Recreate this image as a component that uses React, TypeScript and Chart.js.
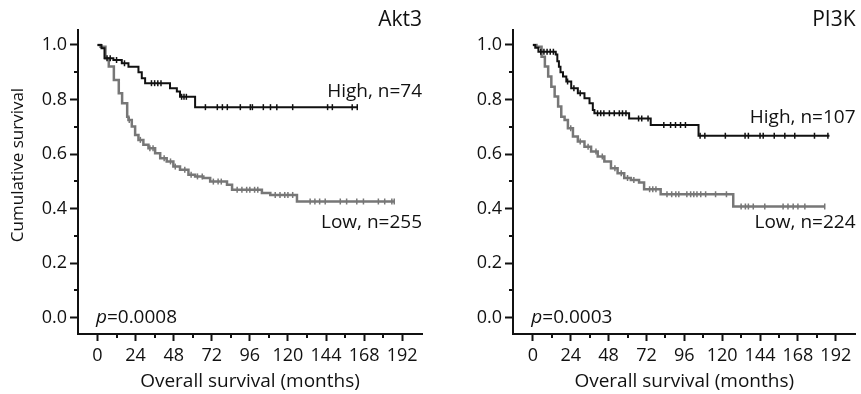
import React, { useEffect, useRef } from 'react';
import { Chart, registerables } from 'chart.js';

Chart.register(...registerables);

// ---------- data ----------
const xMinorTicks = [12, 36, 60, 84, 108, 132, 156, 180];
const yMinorTicks = [0.1, 0.3, 0.5, 0.7, 0.9];

const panelTitles = ['Akt3', 'PI3K'];
const highLabels = ['High, n=74', 'High, n=107'];
const lowLabels = ['Low, n=255', 'Low, n=224'];
const pValueTexts = ['=0.0008', '=0.0003'];

const akt3HighTime = [0, 2.5, 4.4, 10, 15.3, 19.5, 25.8, 27.9, 30, 45.7, 50, 52, 61.5, 164];
const akt3HighSurv = [1, 0.988, 0.951, 0.945, 0.933, 0.92, 0.9, 0.878, 0.86, 0.841, 0.829, 0.81, 0.772, 0.772];
const akt3HighCensor = [6, 8, 12, 17, 34, 36, 38, 40, 53, 54.5, 56, 68, 75.5, 78.7, 81.8, 90, 96.3, 97.6, 104.5, 109, 113, 123, 145, 148, 160.5, 163.7];

const akt3LowTime = [0, 1.9, 5, 7.1, 10.3, 13.4, 15.5, 18.7, 19.5, 21.6, 23.7, 25.8, 28.9, 32.1, 36.3, 39.5, 43.6, 47.8, 52, 57.3, 61.5, 66.7, 71, 81.6, 84.8, 103.6, 108.9, 125.7, 187];
const akt3LowSurv = [1, 0.994, 0.951, 0.921, 0.872, 0.823, 0.786, 0.737, 0.725, 0.701, 0.67, 0.652, 0.634, 0.621, 0.603, 0.585, 0.573, 0.554, 0.542, 0.524, 0.518, 0.512, 0.499, 0.487, 0.469, 0.457, 0.45, 0.426, 0.426];
const akt3LowCensor = [20, 27, 33, 35, 42, 46, 49, 55, 59, 63, 66, 73, 76, 78, 88, 91, 94, 96, 99, 101, 112, 115, 118, 120, 123, 134, 137, 140, 143.5, 153, 157, 163.4, 167.6, 177, 181, 185.5, 187];

const pi3kHighTime = [0, 1.5, 3.5, 14.5, 15.5, 16.5, 17.5, 19.1, 21.2, 24.3, 28.5, 32.7, 35.9, 38, 39, 61, 74.7, 105, 188];
const pi3kHighSurv = [1, 0.99, 0.975, 0.965, 0.94, 0.92, 0.9, 0.884, 0.866, 0.841, 0.823, 0.805, 0.786, 0.762, 0.75, 0.73, 0.707, 0.667, 0.667];
const pi3kHighCensor = [5, 7, 9, 11, 13, 22, 26, 30, 41, 43, 45, 48.5, 51.6, 54.8, 56.8, 59, 67, 69, 73, 83, 87.3, 90.4, 93.6, 96.7, 106, 109, 122, 134.5, 136.6, 144, 146, 153, 159.7, 166, 178.5, 187];

const pi3kLowTime = [0, 2.3, 5.5, 7.6, 9.7, 11.7, 13.8, 16, 18, 20.1, 22.2, 25.4, 28.5, 32.7, 36.9, 41.1, 45.3, 49.5, 53.7, 57.9, 62.1, 67.3, 70.5, 81, 127, 185];
const pi3kLowSurv = [1, 0.994, 0.957, 0.921, 0.884, 0.847, 0.811, 0.774, 0.737, 0.725, 0.695, 0.664, 0.646, 0.627, 0.609, 0.591, 0.573, 0.548, 0.53, 0.512, 0.505, 0.496, 0.471, 0.453, 0.408, 0.408];
const pi3kLowCensor = [24, 30, 35, 40, 44, 52, 56, 60, 64, 74, 76, 78, 85, 88, 90.6, 92.5, 97.6, 100, 102, 104, 106.4, 109.5, 115.8, 122.7, 132, 134.7, 136.6, 139.7, 147, 158.6, 161.7, 165, 168, 172.4, 185];

// ---------- helpers ----------
const INK = '#111111';
const GRAY = '#777777';
const FONT = "'Open Sans', 'DejaVu Sans', sans-serif";

function toPoints(t: number[], s: number[]) {
  return t.map((v, i) => ({ x: v, y: s[i] }));
}
function survAt(t: number[], s: number[], time: number) {
  let val = s[0];
  for (let i = 0; i < t.length; i++) if (t[i] <= time) val = s[i];
  return val;
}
function censorPoints(t: number[], s: number[], c: number[]) {
  return c.map((v) => ({ x: v, y: survAt(t, s, v) }));
}

type PanelDef = {
  idx: number;
  left: number;
  width: number;
  yAxisWidth: number;
  padRight: number;
  xMin: number;
  highT: number[];
  highS: number[];
  highC: number[];
  lowT: number[];
  lowS: number[];
  lowC: number[];
  highLabelY: number;
  lowLabelY: number;
  showYTitle: boolean;
};

function Panel(props: PanelDef) {
  const ref = useRef<HTMLCanvasElement | null>(null);
  useEffect(() => {
    const canvas = ref.current;
    if (!canvas) return;
    const p = props;
    const annot = {
      id: 'annot',
      afterDraw(chart: any) {
        const { ctx, chartArea } = chart;
        const x = chart.scales.x;
        const y = chart.scales.y;
        ctx.save();
        ctx.strokeStyle = INK;
        ctx.lineWidth = 2;
        for (const v of xMinorTicks) {
          const px = Math.round(x.getPixelForValue(v));
          ctx.beginPath();
          ctx.moveTo(px, chartArea.bottom);
          ctx.lineTo(px, chartArea.bottom + 4);
          ctx.stroke();
        }
        for (const v of yMinorTicks) {
          const py = Math.round(y.getPixelForValue(v));
          ctx.beginPath();
          ctx.moveTo(chartArea.left, py);
          ctx.lineTo(chartArea.left - 4, py);
          ctx.stroke();
        }
        ctx.fillStyle = INK;
        // panel title
        ctx.font = `21px ${FONT}`;
        ctx.textAlign = 'right';
        ctx.textBaseline = 'middle';
        ctx.fillText(panelTitles[p.idx], chartArea.right, 20);
        // group labels
        ctx.font = `19px ${FONT}`;
        ctx.fillText(highLabels[p.idx], chartArea.right, y.getPixelForValue(p.highLabelY));
        ctx.fillText(lowLabels[p.idx], chartArea.right, y.getPixelForValue(p.lowLabelY));
        // p value
        ctx.textAlign = 'left';
        ctx.textBaseline = 'alphabetic';
        const px0 = x.getPixelForValue(-1);
        const base = y.getPixelForValue(0) + 5;
        ctx.font = `italic 19px ${FONT}`;
        ctx.fillText('p', px0, base);
        const w = ctx.measureText('p').width;
        ctx.font = `19px ${FONT}`;
        ctx.fillText(pValueTexts[p.idx], px0 + w, base);
        // y title
        if (p.showYTitle) {
          ctx.save();
          ctx.translate(18, 165);
          ctx.rotate(-Math.PI / 2);
          ctx.textAlign = 'center';
          ctx.textBaseline = 'middle';
          ctx.font = `17px ${FONT}`;
          ctx.fillText('Cumulative survival', 0, 0);
          ctx.restore();
        }
        ctx.restore();
      },
    };

    const chart = new Chart(canvas, {
      type: 'line',
      data: {
        datasets: [
          {
            data: toPoints(p.highT, p.highS),
            borderColor: INK,
            borderWidth: 2,
            stepped: 'before',
            pointRadius: 0,
            fill: false,
          },
          {
            type: 'scatter',
            data: censorPoints(p.highT, p.highS, p.highC),
            pointStyle: 'line',
            rotation: 90,
            radius: 3,
            borderColor: INK,
            borderWidth: 1.5,
            backgroundColor: INK,
          } as any,
          {
            data: toPoints(p.lowT, p.lowS),
            borderColor: GRAY,
            borderWidth: 2.5,
            stepped: 'before',
            pointRadius: 0,
            fill: false,
          },
          {
            type: 'scatter',
            data: censorPoints(p.lowT, p.lowS, p.lowC),
            pointStyle: 'line',
            rotation: 90,
            radius: 3,
            borderColor: GRAY,
            borderWidth: 1.5,
            backgroundColor: GRAY,
          } as any,
        ],
      },
      options: {
        animation: false,
        responsive: false,
        maintainAspectRatio: false,
        events: [],
        plugins: { legend: { display: false }, tooltip: { enabled: false } },
        layout: { padding: { top: 30, right: p.padRight, left: 0, bottom: 0 } },
        scales: {
          x: {
            type: 'linear',
            min: p.xMin,
            max: 204.5,
            afterFit: (s: any) => {
              s.height = 60;
            },
            ticks: {
              stepSize: 24,
              includeBounds: false,
              autoSkip: false,
              maxRotation: 0,
              color: INK,
              padding: 4,
              font: { family: FONT, size: 18 },
            },
            grid: { drawOnChartArea: false, drawTicks: true, tickLength: 7, tickWidth: 2, tickColor: INK },
            border: { display: true, color: INK, width: 2 },
            title: {
              display: true,
              text: 'Overall survival (months)',
              color: INK,
              font: { family: FONT, size: 19 },
              padding: { top: 0, bottom: 1 },
            },
          },
          y: {
            type: 'linear',
            min: -0.06,
            max: 1.055,
            afterFit: (s: any) => {
              s.width = p.yAxisWidth;
            },
            ticks: {
              stepSize: 0.2,
              includeBounds: false,
              color: INK,
              padding: 3,
              font: { family: FONT, size: 18 },
              callback: (v: any) => Number(v).toFixed(1),
            },
            grid: { drawOnChartArea: false, drawTicks: true, tickLength: 8, tickWidth: 2, tickColor: INK },
            border: { display: true, color: INK, width: 2 },
          },
        },
      },
      plugins: [annot],
    } as any);
    return () => chart.destroy();
  }, []);
  return (
    <canvas
      ref={ref}
      width={props.width}
      height={394}
      style={{ position: 'absolute', left: props.left, top: 0, width: props.width, height: 394 }}
    />
  );
}

export default function App() {
  return (
    <div style={{ position: 'absolute', left: 0, top: 0, width: 861, height: 394, background: '#fff' }}>
      <Panel
        idx={0}
        left={0}
        width={430}
        yAxisWidth={78}
        padRight={8}
        xMin={-12.3}
        highT={akt3HighTime}
        highS={akt3HighSurv}
        highC={akt3HighCensor}
        lowT={akt3LowTime}
        lowS={akt3LowSurv}
        lowC={akt3LowCensor}
        highLabelY={0.83}
        lowLabelY={0.35}
        showYTitle={true}
      />
      <Panel
        idx={1}
        left={430}
        width={431}
        yAxisWidth={83}
        padRight={3}
        xMin={-12.6}
        highT={pi3kHighTime}
        highS={pi3kHighSurv}
        highC={pi3kHighCensor}
        lowT={pi3kLowTime}
        lowS={pi3kLowSurv}
        lowC={pi3kLowCensor}
        highLabelY={0.735}
        lowLabelY={0.35}
        showYTitle={false}
      />
    </div>
  );
}
